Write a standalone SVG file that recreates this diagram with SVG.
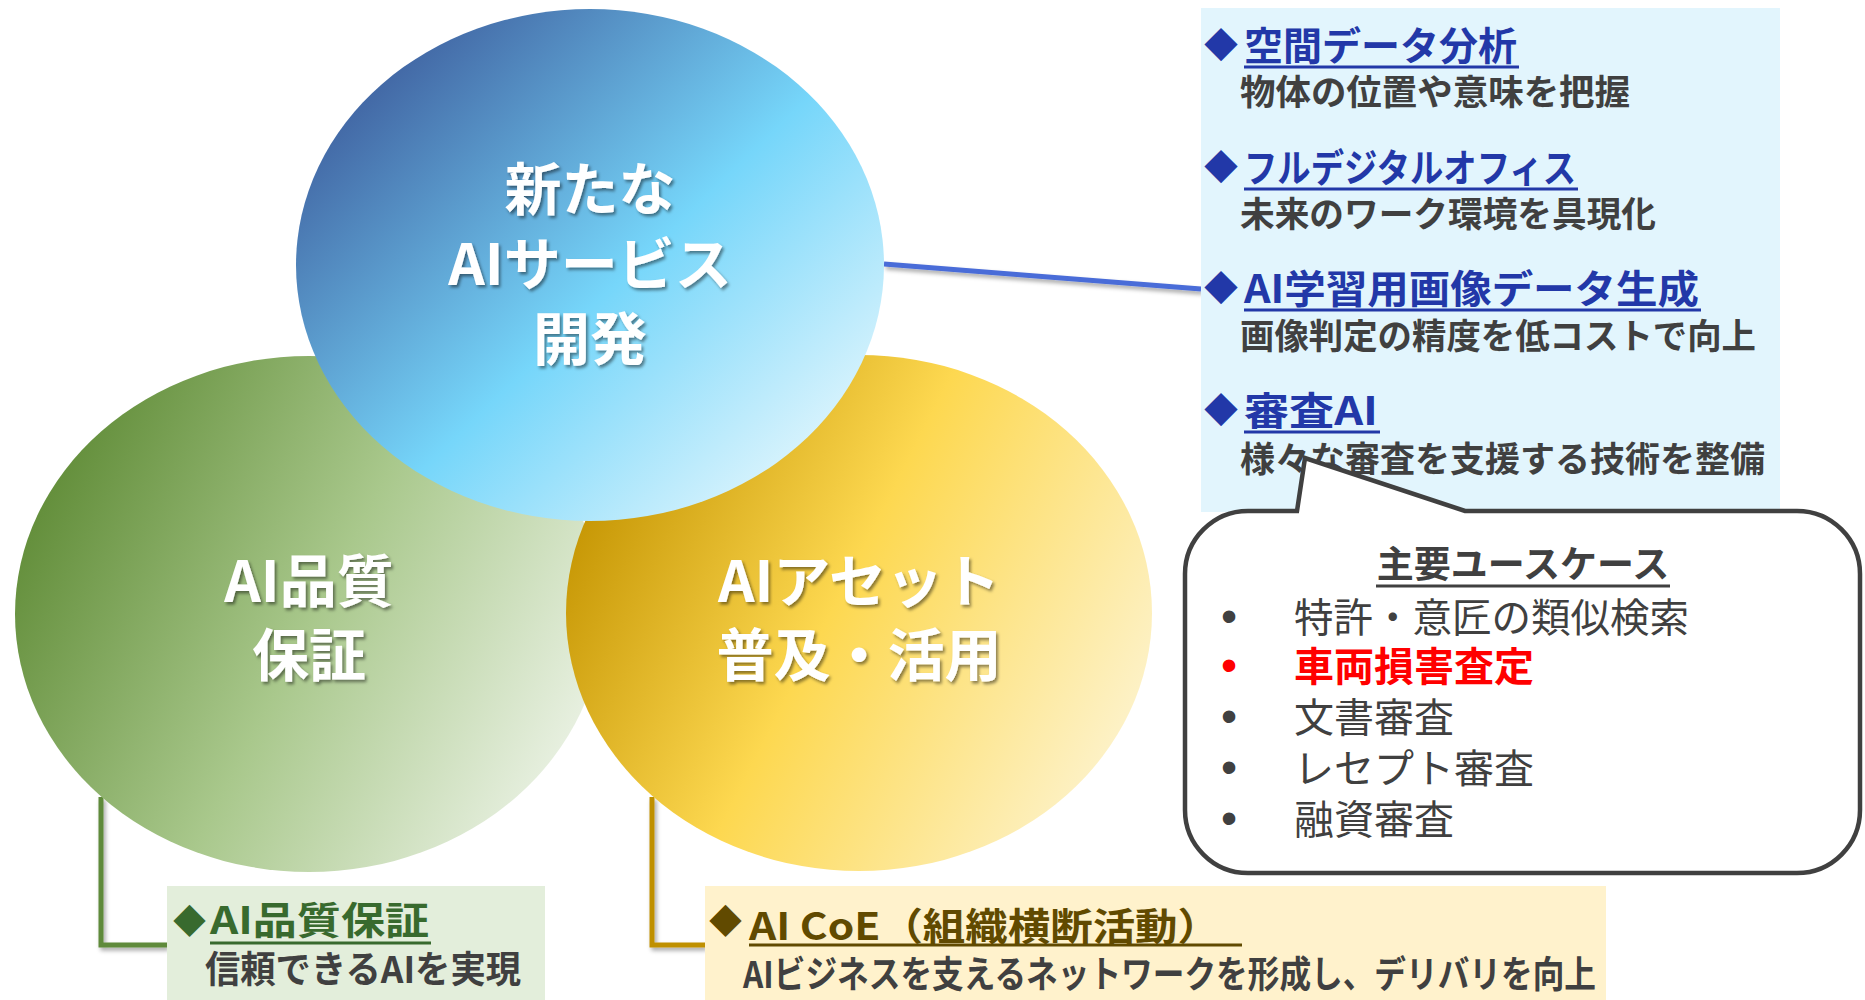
<svg xmlns="http://www.w3.org/2000/svg" width="1865" height="1000" viewBox="0 0 1865 1000">
<defs>
<linearGradient id="gBlue" x1="0.08" y1="0.12" x2="0.92" y2="0.88">
<stop offset="0" stop-color="#3d5c9c"/>
<stop offset="0.55" stop-color="#76d6fa"/>
<stop offset="1" stop-color="#e2f6fd"/>
</linearGradient>
<linearGradient id="gGreen" x1="0" y1="0.3" x2="1" y2="0.75">
<stop offset="0" stop-color="#5f8b36"/>
<stop offset="0.5" stop-color="#a9c88c"/>
<stop offset="1" stop-color="#eef4e9"/>
</linearGradient>
<linearGradient id="gYellow" x1="0" y1="0.3" x2="1" y2="0.75">
<stop offset="0" stop-color="#c39300"/>
<stop offset="0.45" stop-color="#fdd850"/>
<stop offset="1" stop-color="#fdf4d2"/>
</linearGradient>
<filter id="txtShadow" x="-10%" y="-20%" width="130%" height="150%">
<feDropShadow dx="2" dy="2.5" stdDeviation="1.5" flood-color="#000" flood-opacity="0.45"/>
</filter>
<filter id="lineShadow" x="-10%" y="-20%" width="130%" height="150%">
<feDropShadow dx="2" dy="3" stdDeviation="2" flood-color="#000" flood-opacity="0.35"/>
</filter>
</defs>
<style>
text{font-family:"Noto Sans CJK JP","Noto Sans CJK SC",sans-serif;}
.ct{font-size:57px;font-weight:700;fill:#fff;text-anchor:middle;}
.pt{font-size:39px;font-weight:700;fill:#2238a8;}
.pd{font-size:35px;font-weight:700;fill:#404040;}
.pdia{font-size:34px;fill:#2238a8;}
.ul{stroke-width:3;}
.ci{font-size:40px;font-weight:400;fill:#404040;}
.cb{font-family:"Liberation Sans",Arial,sans-serif;font-size:46px;fill:#404040;text-anchor:middle;}
.bt{font-size:38px;font-weight:700;}
.bd{font-size:37px;font-weight:700;fill:#404040;}
</style>
<rect width="1865" height="1000" fill="#ffffff"/>

<g id="connectors" fill="none" filter="url(#lineShadow)">
<path d="M101 797 V945 H167" stroke="#5e8a3a" stroke-width="5"/>
<path d="M652 797 V945 H705" stroke="#bf9000" stroke-width="5"/>
<path d="M884 264 L1201 289" stroke="#4a6cd8" stroke-width="5"/>
</g>

<g id="node-quality">
<ellipse cx="309" cy="614" rx="294" ry="258" fill="url(#gGreen)"/>
<g filter="url(#txtShadow)">
<text class="ct" x="309" y="602">AI品質</text>
<text class="ct" x="309" y="676">保証</text>
</g>
</g>

<g id="node-asset">
<ellipse cx="859" cy="613" rx="293" ry="258" fill="url(#gYellow)"/>
<g filter="url(#txtShadow)">
<text class="ct" x="859" y="602">AIアセット</text>
<text class="ct" x="859" y="676">普及・活用</text>
</g>
</g>

<g id="node-service">
<ellipse cx="590" cy="265" rx="294" ry="256" fill="url(#gBlue)"/>
<g filter="url(#txtShadow)">
<text class="ct" x="590" y="210">新たな</text>
<text class="ct" x="590" y="285">AIサービス</text>
<text class="ct" x="590" y="360">開発</text>
</g>
</g>

<g id="panel-services">
<rect x="1201" y="8" width="579" height="504" fill="#e2f5fd"/>
<text class="pdia" x="1204" y="58">◆</text>
<text class="pt" x="1244" y="60" textLength="273" lengthAdjust="spacingAndGlyphs">空間データ分析</text>
<line class="ul" x1="1244" y1="67" x2="1519" y2="67" stroke="#2238a8"/>
<text class="pd" x="1240" y="105" textLength="390" lengthAdjust="spacingAndGlyphs">物体の位置や意味を把握</text>

<text class="pdia" x="1204" y="180">◆</text>
<text class="pt" x="1244" y="182" textLength="332" lengthAdjust="spacingAndGlyphs">フルデジタルオフィス</text>
<line class="ul" x1="1244" y1="189" x2="1578" y2="189" stroke="#2238a8"/>
<text class="pd" x="1240" y="227" textLength="416" lengthAdjust="spacingAndGlyphs">未来のワーク環境を具現化</text>

<text class="pdia" x="1204" y="301">◆</text>
<text class="pt" x="1244" y="303" textLength="455" lengthAdjust="spacingAndGlyphs">AI学習用画像データ生成</text>
<line class="ul" x1="1244" y1="310" x2="1701" y2="310" stroke="#2238a8"/>
<text class="pd" x="1240" y="349" textLength="516" lengthAdjust="spacingAndGlyphs">画像判定の精度を低コストで向上</text>

<text class="pdia" x="1204" y="423">◆</text>
<text class="pt" x="1244" y="425" textLength="134" lengthAdjust="spacingAndGlyphs">審査AI</text>
<line class="ul" x1="1244" y1="432" x2="1380" y2="432" stroke="#2238a8"/>
<text class="pd" x="1240" y="472" textLength="525" lengthAdjust="spacingAndGlyphs">様々な審査を支援する技術を整備</text>
</g>

<g id="callout-usecases">
<path d="M1248 511 H1297 L1305 458 L1465 511 H1797 A63 63 0 0 1 1860 574 V810 A63 63 0 0 1 1797 873 H1248 A63 63 0 0 1 1185 810 V574 A63 63 0 0 1 1248 511 Z" fill="#ffffff" stroke="#404040" stroke-width="4.5" stroke-linejoin="miter"/>
<text x="1523" y="578" font-size="37" font-weight="700" fill="#404040" text-anchor="middle">主要ユースケース</text>
<line x1="1376" y1="586" x2="1670" y2="586" stroke="#404040" stroke-width="3"/>
<text class="cb" x="1229" y="632">•</text>
<text class="ci" x="1294" y="632" textLength="395" lengthAdjust="spacingAndGlyphs">特許・意匠の類似検索</text>
<text class="cb" x="1229" y="681" style="fill:#ff0000">•</text>
<text class="ci" x="1294" y="681" style="fill:#ff0000;font-weight:700">車両損害査定</text>
<text class="cb" x="1229" y="732">•</text>
<text class="ci" x="1294" y="732">文書審査</text>
<text class="cb" x="1229" y="783">•</text>
<text class="ci" x="1294" y="783">レセプト審査</text>
<text class="cb" x="1229" y="834">•</text>
<text class="ci" x="1294" y="834">融資審査</text>
</g>

<g id="box-quality">
<rect x="167" y="886" width="378" height="114" fill="#e3eedb"/>
<text x="173" y="933" font-size="33" fill="#386a2e">◆</text>
<text class="bt" x="210" y="934" fill="#386a2e" textLength="219" lengthAdjust="spacingAndGlyphs">AI品質保証</text>
<line x1="210" y1="943" x2="431" y2="943" stroke="#386a2e" stroke-width="3"/>
<text class="bd" x="205" y="983" textLength="316" lengthAdjust="spacingAndGlyphs">信頼できるAIを実現</text>
</g>

<g id="box-coe">
<rect x="705" y="886" width="901" height="114" fill="#fff2cc"/>
<text x="709" y="933" font-size="33" fill="#614a00">◆</text>
<text class="bt" x="749" y="940" fill="#614a00" textLength="471" lengthAdjust="spacingAndGlyphs">AI CoE（組織横断活動）</text>
<line x1="749" y1="945" x2="1242" y2="945" stroke="#614a00" stroke-width="3"/>
<text class="bd" x="743" y="988" textLength="853" lengthAdjust="spacingAndGlyphs">AIビジネスを支えるネットワークを形成し、デリバリを向上</text>
</g>
</svg>
